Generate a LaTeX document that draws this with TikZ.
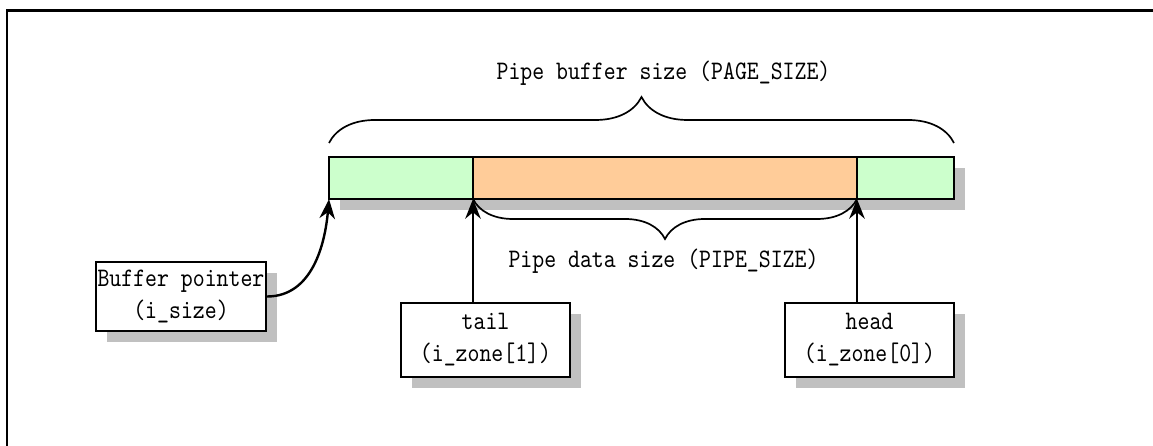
\documentclass[tikz,border=0pt]{standalone}
\usepackage{fontspec}
\setmonofont{lmmono10-regular.otf}[FakeStretch=0.85]
\usetikzlibrary{arrows.meta, positioning, decorations.pathreplacing, shadows}
\definecolor{pipeFree}{HTML}{CCFFCC}
\definecolor{pipeData}{HTML}{FFCC99}
\definecolor{pipeShadow}{HTML}{C0C0C0}
\definecolor{pipeLine}{HTML}{000000}
\tikzset{
  pipefig/.style={
    every node/.append style={font=\ttfamily\fontsize{19}{22.8}\selectfont},
    >={Stealth[length=14pt, width=11pt]},
  },
  shadowed/.style={
    general shadow={fill=pipeShadow, shadow xshift=0.27cm, shadow yshift=-0.27cm},
  },
  bufcell/.style={
    draw=pipeLine, line width=1.9pt, shadowed, anchor=south west,
    inner sep=0pt, outer sep=0pt, minimum height=1.05cm,
  },
  freecell/.style={bufcell, fill=pipeFree},
  datacell/.style={bufcell, fill=pipeData},
  % Zeigerkaesten mit festem grauem Schatten.
  ptrbox/.style={
    draw=pipeLine, line width=1.7pt, fill=white, shadowed, align=center,
    inner sep=1pt, minimum width=4.225cm, minimum height=1.85cm,
  },
  ptr/.style={draw=pipeLine, line width=1.7pt, ->},
  sizebrace/.style={draw=pipeLine, line width=1.2pt, decorate},
  frameline/.style={draw=pipeLine, line width=2pt},
}
\begin{document}
\begin{tikzpicture}[pipefig]
    \useasboundingbox (0,0) rectangle (28.825,11.15);
    \draw[frameline] (0.175,0) -- (0.175,10.8875) -- (28.825,10.8875);
    \node[freecell, minimum width=3.6cm] (freeL) at (8.225,6.175) {};
    \node[datacell, minimum width=9.6cm] (data) at (freeL.south east) {};
    \node[freecell, minimum width=2.425cm] (freeR) at (data.south east) {};
    \draw[sizebrace, decoration={brace, amplitude=1.15cm, raise=0.35cm}] (freeL.north west) -- (freeR.north east);
    \draw[sizebrace, decoration={brace, amplitude=1cm}] (data.south east) -- (data.south west);
    \node[anchor=base] (bufsize) at (16.5875,9.15) {Pipe buffer size (PAGE\_SIZE)};
    \node[anchor=base] (datasize) at (16.5875,4.4575) {Pipe data size (PIPE\_SIZE)};
    \node[ptrbox, minimum width=4.2cm, minimum height=1.725cm] (bufptr) at (4.525,3.7375) {Buffer pointer\\(i\_size)};
    \node[ptrbox] (tail) at (12.1375,2.65) {tail\\(i\_zone[1])};
    \node[ptrbox] (head) at (21.7375,2.65) {head\\(i\_zone[0])};
    \draw[ptr] (bufptr.east) to[out=0, in=-95] (freeL.south west);
    \draw[ptr] (tail.north -| data.south west) -- (data.south west);
    \draw[ptr] (head.north -| freeR.south west) -- (freeR.south west);
  \end{tikzpicture}
\end{document}
